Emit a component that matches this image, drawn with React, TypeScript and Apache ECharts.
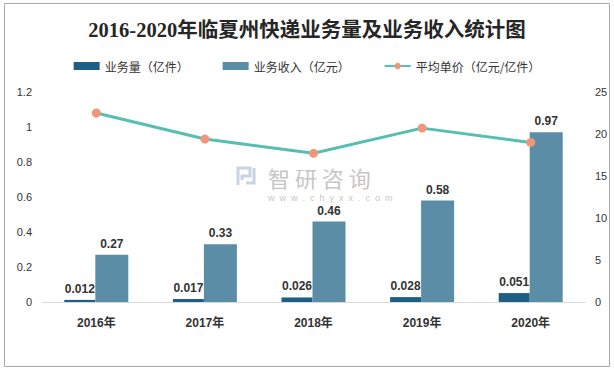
import React, { useEffect, useRef } from "react";
import * as echarts from "echarts";

const categories = ["2016年", "2017年", "2018年", "2019年", "2020年"];
const volume = [0.012, 0.017, 0.026, 0.028, 0.051];
const revenue = [0.27, 0.33, 0.46, 0.58, 0.97];
const unitPrice = [22.5, 19.4, 17.7, 20.7, 19.0];
const leftTicks = [0, 0.2, 0.4, 0.6, 0.8, 1, 1.2];
const rightTicks = [0, 5, 10, 15, 20, 25];

const labelStyle = {
  show: true,
  position: "top" as const,
  distance: 5,
  color: "#333",
  fontSize: 12,
  fontWeight: "bold" as const,
  fontFamily: "Liberation Sans, Noto Sans CJK SC, sans-serif",
};

export default function App() {
  const ref = useRef<HTMLDivElement>(null);
  useEffect(() => {
    if (!ref.current) return;
    const chart = echarts.init(ref.current, null, { renderer: "svg" });
    chart.setOption({
      animation: false,
      backgroundColor: "#fff",
      title: {
        text: "2016-2020年临夏州快递业务量及业务收入统计图",
        left: "center",
        top: 15,
        textStyle: {
          fontFamily: "Liberation Serif, Noto Sans CJK SC, serif",
          fontSize: 20.5,
          fontWeight: "bold",
          color: "#262626",
        },
      },
      legend: {
        top: 55,
        left: "center",
        itemWidth: 26,
        itemHeight: 8,
        itemGap: 34,
        textStyle: {
          fontFamily: "Noto Sans CJK SC, sans-serif",
          fontSize: 12,
          color: "#333",
        },
        data: [
          { name: "业务量（亿件）", icon: "rect" },
          { name: "业务收入（亿元）", icon: "rect" },
          { name: "平均单价（亿元/亿件）" },
        ],
      },
      grid: { left: 42, right: 29, top: 92, bottom: 70 },
      xAxis: {
        type: "category",
        data: categories,
        axisLine: { lineStyle: { color: "#d9d9d9" } },
        axisTick: { show: false },
        axisLabel: {
          margin: 15,
          color: "#333",
          fontSize: 12,
          fontWeight: "bold",
          fontFamily: "Liberation Sans, Noto Sans CJK SC, sans-serif",
        },
      },
      yAxis: [
        {
          type: "value",
          min: leftTicks[0],
          max: leftTicks[leftTicks.length - 1],
          interval: 0.2,
          axisLine: { show: false },
          axisTick: { show: false },
          splitLine: { show: false },
          axisLabel: {
            margin: 10,
            color: "#333",
            fontSize: 11,
            fontFamily: "Liberation Sans, sans-serif",
          },
        },
        {
          type: "value",
          min: rightTicks[0],
          max: rightTicks[rightTicks.length - 1],
          interval: 5,
          axisLine: { show: false },
          axisTick: { show: false },
          splitLine: { show: false },
          axisLabel: {
            margin: 10,
            color: "#333",
            fontSize: 11,
            fontFamily: "Liberation Sans, sans-serif",
          },
        },
      ],
      series: [
        {
          name: "业务量（亿件）",
          type: "bar",
          data: volume,
          barWidth: 31,
          barGap: "0%",
          itemStyle: { color: "#1d5f84" },
          label: labelStyle,
        },
        {
          name: "业务收入（亿元）",
          type: "bar",
          data: revenue,
          barWidth: 33,
          barGap: "0%",
          itemStyle: { color: "#5b8ea6" },
          label: labelStyle,
        },
        {
          name: "平均单价（亿元/亿件）",
          type: "line",
          yAxisIndex: 1,
          data: unitPrice,
          symbol: "circle",
          symbolSize: 9,
          lineStyle: { color: "#55bfb3", width: 3 },
          itemStyle: { color: "#ef967c" },
          z: 5,
        },
      ],
      graphic: [
        {
          type: "rect",
          shape: { x: 4.5, y: 3.5, width: 605, height: 363 },
          style: { fill: "none", stroke: "#aaaaaa", lineWidth: 1 },
          silent: true,
        },
        {
          type: "group",
          z: 1,
          silent: true,
          children: [
            {
              type: "polyline",
              shape: { points: [[238, 185], [238, 168], [250, 168], [250, 176], [242, 176], [242, 180]] },
              style: { fill: "none", stroke: "#c9d3e4", lineWidth: 3 },
            },
            {
              type: "polyline",
              shape: { points: [[254, 168], [254, 183], [246, 183]] },
              style: { fill: "none", stroke: "#c9d3e4", lineWidth: 3 },
            },
            {
              type: "text",
              x: 268,
              y: 177,
              style: {
                text: "智 研 咨 询",
                fill: "#c6c6c6",
                fontSize: 22,
                fontFamily: "Noto Sans CJK SC, sans-serif",
                verticalAlign: "middle",
              },
            },
            {
              type: "text",
              x: 268,
              y: 198,
              style: {
                text: "w  w  w  .  c  h  y  x  x  .  c  o  m",
                fill: "#c6c6c6",
                fontSize: 9,
                fontFamily: "Liberation Sans, sans-serif",
                verticalAlign: "middle",
              },
            },
          ],
        },
      ],
    });
    return () => chart.dispose();
  }, []);
  return (
    <div
      ref={ref}
      style={{ position: "fixed", left: 0, top: 0, width: 614, height: 372 }}
    />
  );
}
